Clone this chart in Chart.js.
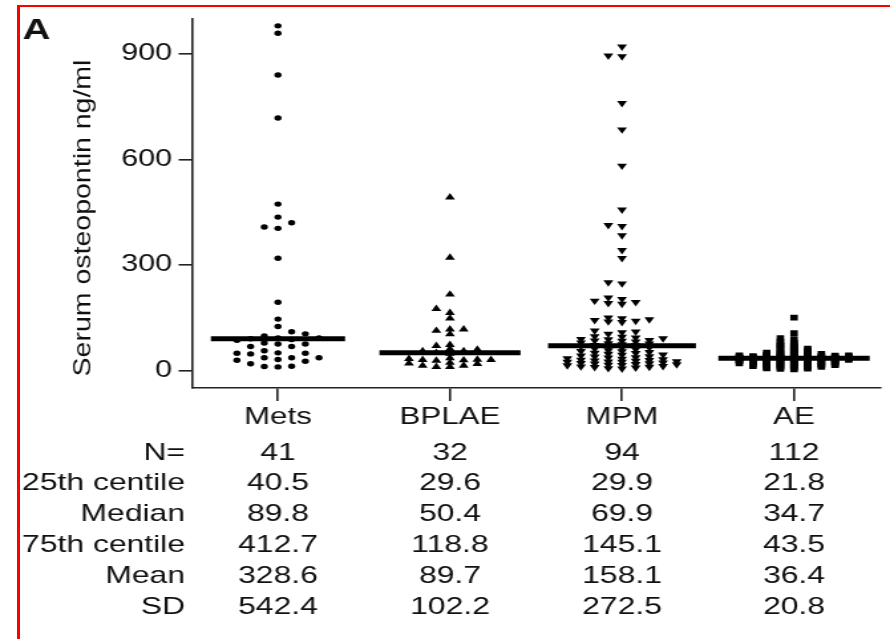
<!DOCTYPE html>
<html>
<head>
<meta charset="utf-8">
<script src="https://cdn.jsdelivr.net/npm/chart.js@4.4.1/dist/chart.umd.min.js"></script>
<style>
  html, body { margin: 0; padding: 0; background: #fff; overflow: hidden; }
  #wrap { position: relative; width: 890px; height: 639px; }
  #frame { position: absolute; left: 17px; top: 5px; width: 900px; height: 700px;
           border-left: 3px solid #ff0000; border-top: 2px solid #ff0000; }
  #chart { position: absolute; left: 0; top: 0; }
</style>
</head>
<body>
<div id="wrap">
  <canvas id="chart" width="670" height="639"></canvas>
  <div id="frame"></div>
</div>
<script>
(function () {
  "use strict";

  var categories = ["Mets", "BPLAE", "MPM", "AE"];
  var yTicks = [0, 300, 600, 900];

  // serum osteopontin, ng/ml
  var metsValues = [980, 959, 840, 718, 473, 436, 420, 408, 404, 319, 194, 146, 125, 110,
    104, 98, 92, 92, 90, 88, 86, 78, 75, 75, 68, 68, 56, 50, 49, 49, 47, 36, 36, 36,
    31, 29, 26, 19, 12, 11, 10];
  var bplaeValues = [492, 321, 216, 175, 164, 148, 117, 117, 113, 103, 73, 70, 61, 59,
    55, 55, 50, 48, 35, 33, 31, 30, 30, 29, 28, 22, 20, 19, 14, 14, 10, 10];
  var mpmValues = [921, 895, 893, 760, 685, 582, 457, 413, 410, 384, 342, 319, 250, 247,
    207, 203, 198, 194, 191, 189, 150, 148, 145, 143, 141, 139, 137, 113, 110, 108, 104,
    97, 95, 93, 91, 89, 88, 86, 85, 84, 82, 79, 77, 76, 74, 72, 71,
    69, 67, 65, 64, 62, 60, 57, 55, 54, 52, 50, 49, 47, 45, 44, 42, 40, 39, 37, 36, 34,
    33, 31, 30, 29, 28, 27, 26, 25, 24, 24, 22, 21, 20, 19, 18, 17, 16, 15, 14, 12, 11,
    10, 9, 8, 6, 5];
  var aeValues = [150, 106, 92, 89, 82, 79, 75, 74, 71, 69, 66, 65, 62, 61, 59, 57, 56,
    54, 53, 51, 50, 49, 48, 47, 46, 45, 44, 44,
    43, 43, 42, 42, 41, 41, 41, 40, 40, 39, 39, 39, 38, 38, 38, 37, 37, 37, 36, 36, 36,
    36, 35, 35, 35, 35, 35, 35,
    34, 34, 34, 33, 33, 33, 32, 32, 31, 31, 30, 30, 30, 29, 29, 28, 28, 27, 27, 26, 26,
    25, 25, 24, 24, 23, 23, 22,
    21, 21, 20, 20, 19, 19, 18, 18, 17, 17, 16, 15, 15, 14, 14, 13, 12, 12, 11, 10, 10,
    9, 8, 7, 6, 5, 4, 3];

  // summary table
  var rowLabels = ["N=", "25th centile", "Median", "75th centile", "Mean", "SD"];
  var counts = [41, 32, 94, 112];
  var centile25 = [40.5, 29.6, 29.9, 21.8];
  var medians = [89.8, 50.4, 69.9, 34.7];
  var centile75 = [412.7, 118.8, 145.1, 43.5];
  var means = [328.6, 89.7, 158.1, 36.4];
  var sds = [542.4, 102.2, 272.5, 20.8];

  var groups = [metsValues, bplaeValues, mpmValues, aeValues];
  var markers = [
    { style: "circle", radius: 2.7, rotation: 0, gap: 20, slots: 3 },
    { style: "triangle", radius: 4.3, rotation: 0, gap: 12, slots: 3 },
    { style: "triangle", radius: 4.3, rotation: 180, gap: 10, slots: 4 },
    { style: "rect", radius: 4.0, rotation: 0, gap: 4, slots: 4 }
  ];
  var medianHalf = [0.39, 0.41, 0.43, 0.44];
  var slotStep = 0.0795;

  // simple column beeswarm: lowest values first, nearest free column to the centre
  function swarm(values, gap, maxSlot) {
    var order = values.map(function (v, i) { return i; })
      .sort(function (a, b) { return values[a] - values[b]; });
    var cand = [0];
    for (var k = 1; k <= maxSlot; k++) { cand.push(-k, k); }
    var last = {};
    var out = [];
    order.forEach(function (i) {
      var v = values[i], best = 0, bestGap = -1;
      for (var c = 0; c < cand.length; c++) {
        var s = cand[c];
        var g = last[s] === undefined ? Infinity : v - last[s];
        if (g >= gap) { best = s; break; }
        if (g > bestGap) { best = s; bestGap = g; }
      }
      last[best] = v;
      out[i] = best;
    });
    return out;
  }

  var datasets = groups.map(function (vals, gi) {
    var m = markers[gi];
    var slots = swarm(vals, m.gap, m.slots);
    return {
      label: categories[gi],
      data: vals.map(function (v, i) { return { x: gi + 0.5 + slots[i] * slotStep, y: v }; }),
      pointStyle: m.style,
      pointRadius: m.radius,
      pointRotation: m.rotation,
      pointBackgroundColor: "#000",
      pointBorderWidth: 0
    };
  });

  medians.forEach(function (med, gi) {
    datasets.push({
      label: categories[gi] + " median",
      data: [{ x: gi + 0.5 - medianHalf[gi], y: med }, { x: gi + 0.5 + medianHalf[gi], y: med }],
      showLine: true,
      borderColor: "#000",
      borderWidth: 5,
      pointRadius: 0
    });
  });

  var fontFamily = '"Liberation Sans", Arial, Helvetica, sans-serif';
  Chart.defaults.font.family = fontFamily;
  Chart.defaults.color = "#111";

  var extras = {
    id: "extras",
    afterDraw: function (chart) {
      var ctx = chart.ctx;
      var xs = chart.scales.x;
      ctx.save();
      ctx.fillStyle = "#111";

      ctx.font = "bold 29px " + fontFamily;
      ctx.textAlign = "left";
      ctx.textBaseline = "alphabetic";
      ctx.fillText("A", 17, 39);

      ctx.save();
      ctx.translate(63, 218);
      ctx.rotate(-Math.PI / 2);
      ctx.scale(1.55, 1);
      ctx.font = "18.4px " + fontFamily;
      ctx.textAlign = "center";
      ctx.textBaseline = "middle";
      ctx.fillText("Serum osteopontin ng/ml", 0, 0);
      ctx.restore();

      var rows = [
        counts.map(String),
        centile25.map(function (v) { return v.toFixed(1); }),
        medians.map(function (v) { return v.toFixed(1); }),
        centile75.map(function (v) { return v.toFixed(1); }),
        means.map(function (v) { return v.toFixed(1); }),
        sds.map(function (v) { return v.toFixed(1); })
      ];
      ctx.font = "24px " + fontFamily;
      rowLabels.forEach(function (lab, r) {
        var y = 459.5 + r * 30.8;
        ctx.textAlign = "right";
        ctx.fillText(lab, 139.3, y);
        ctx.textAlign = "center";
        rows[r].forEach(function (txt, c) {
          ctx.fillText(txt, xs.getPixelForValue(c + 0.5), y);
        });
      });
      ctx.restore();
    }
  };

  var ctx = document.getElementById("chart");
  var myChart = new Chart(ctx, {
    type: "scatter",
    data: { datasets: datasets },
    plugins: [extras],
    options: {
      responsive: false,
      animation: false,
      events: [],
      layout: { padding: { left: 0, right: 7.5, top: 15, bottom: 211 } },
      plugins: { legend: { display: false }, tooltip: { enabled: false } },
      scales: {
        x: {
          type: "linear",
          min: 0,
          max: 4,
          afterBuildTicks: function (scale) {
            scale.ticks = categories.map(function (c, i) { return { value: i + 0.5 }; });
          },
          afterFit: function (scale) { scale.height = 40; },
          ticks: {
            autoSkip: false,
            maxRotation: 0,
            padding: 2,
            color: "#111",
            font: { size: 23.5 },
            callback: function (value, index) { return categories[index]; }
          },
          grid: { drawOnChartArea: false, drawTicks: true, tickLength: 13, color: "#222", lineWidth: 1.6 },
          border: { display: true, color: "#222", width: 1.6 }
        },
        y: {
          min: -50,
          max: 1000,
          afterBuildTicks: function (scale) {
            scale.ticks = yTicks.map(function (v) { return { value: v }; });
          },
          afterFit: function (scale) { scale.width = 144.5; },
          ticks: { padding: 5, color: "#111", font: { size: 23 } },
          grid: { drawOnChartArea: false, drawTicks: true, tickLength: 10, color: "#222", lineWidth: 1.6 },
          border: { display: true, color: "#222", width: 1.6 }
        }
      }
    }
  });

  // the figure is horizontally stretched
  ctx.style.width = "890px";
  ctx.style.height = "639px";
})();
</script>
</body>
</html>
